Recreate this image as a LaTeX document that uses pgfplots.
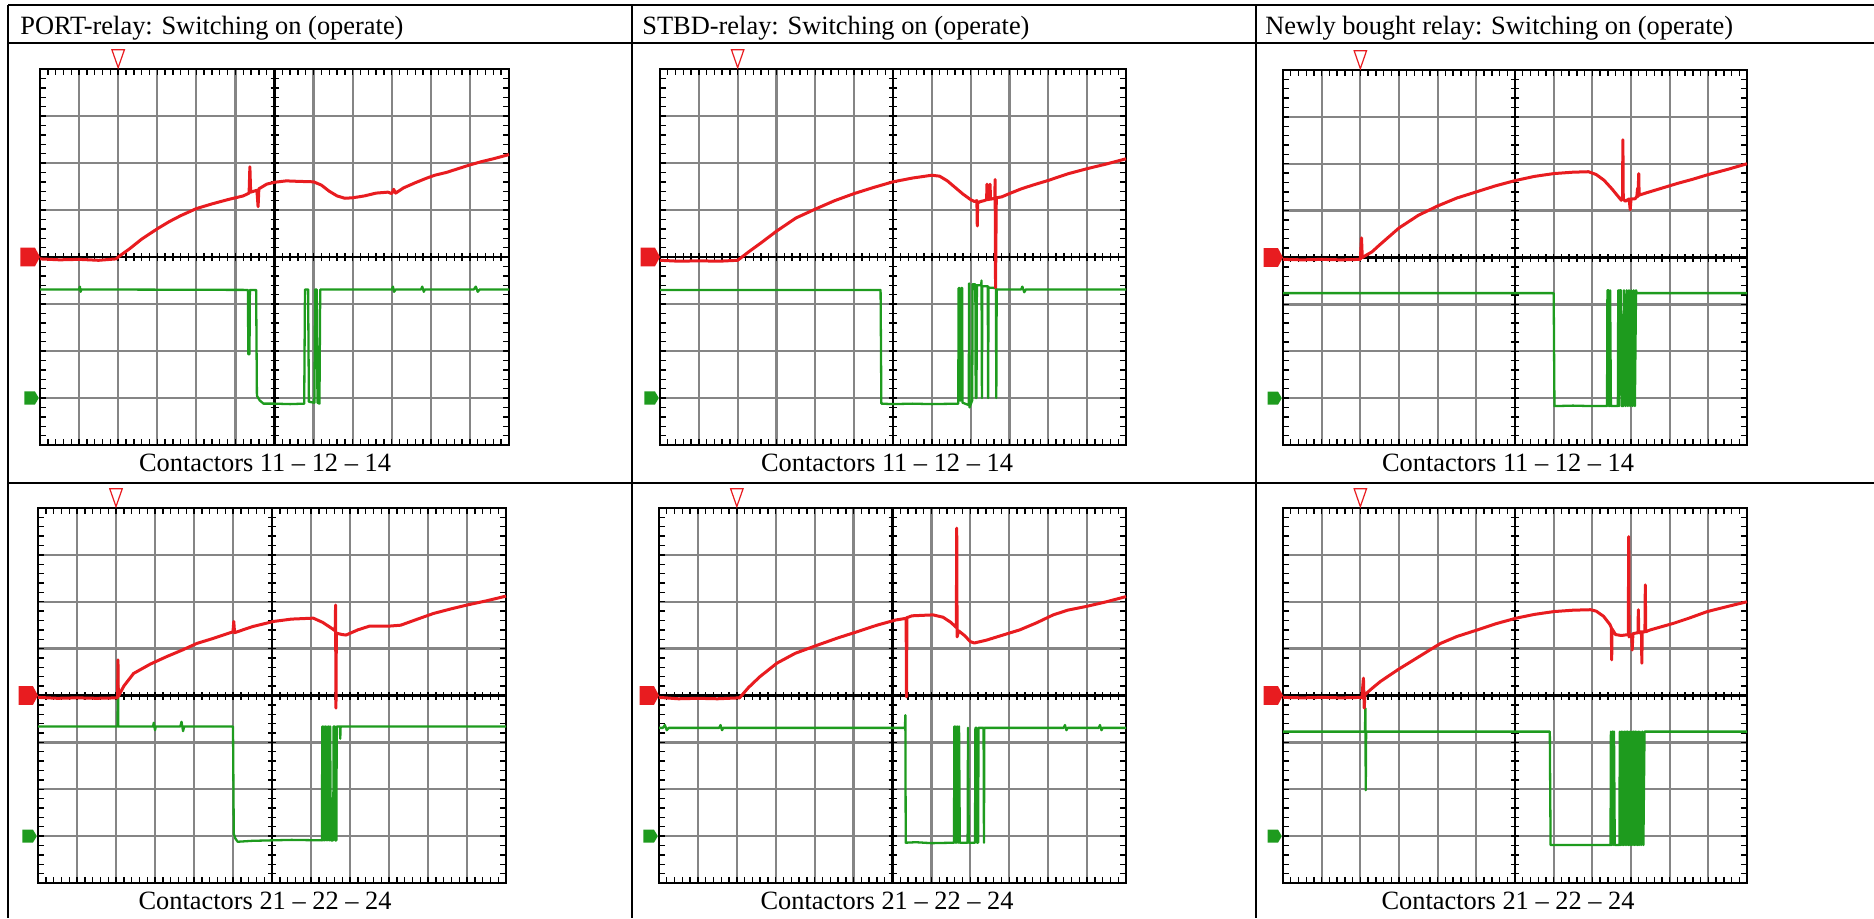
\documentclass[border=0pt]{standalone}
\usepackage{pgfplots}
\pgfplotsset{compat=1.18}
\usepackage{fontspec}
\setmainfont{Liberation Serif}
\definecolor{trred}{RGB}{232,28,32}
\definecolor{trgreen}{RGB}{30,155,30}
\pgfplotsset{
  gridax/.style={scale only axis, anchor=south west, xmin=0, xmax=12, ymin=-4, ymax=4,
    xtick={0,...,12}, ytick={-4,...,4}, xticklabel=\empty, yticklabel=\empty,
    minor x tick num=4, minor y tick num=4,
    grid=major, major grid style={black!48, line width=1.15pt},
    tick align=inside, major tick length=3pt, minor tick length=3pt,
    tick style={black, line width=0.7pt},
    axis line style={black, line width=1.3pt}},
  crossax/.style={scale only axis, anchor=south west, xmin=-6, xmax=6, ymin=-4, ymax=4,
    axis lines=center, axis line style={black, line width=1.2pt, -},
    xtick={-6,...,6}, ytick={-4,...,4}, xticklabel=\empty, yticklabel=\empty,
    minor x tick num=4, minor y tick num=4,
    tick align=center, major tick length=4pt, minor tick length=4pt,
    tick style={black, line width=0.7pt}},
  dataax/.style={scale only axis, anchor=south west, xmin=0, xmax=12, ymin=-4, ymax=4,
    hide axis, clip=false},
  redtr/.style={color=trred, line width=1.5pt, no markers, line join=round},
  greentr/.style={color=trgreen, line width=1.15pt, no markers, line join=round},
}
% #1 x, #2 y, #3 width, #4 height, #5 red trace, #6 green trace
\newcommand{\osc}[6]{%
  \begin{axis}[gridax, at={(#1,#2)}, width=#3, height=#4]
  \end{axis}
  \begin{axis}[crossax, at={(#1,#2)}, width=#3, height=#4]
  \end{axis}
  \begin{axis}[dataax, at={(#1,#2)}, width=#3, height=#4]
    \addplot[greentr] coordinates {#6};
    \addplot[redtr] coordinates {#5};
    \addplot[fill=trred, draw=none] coordinates {(-0.5,0.2)(-0.13,0.2)(0,0)(-0.13,-0.2)(-0.5,-0.2)} -- cycle;
    \addplot[fill=trgreen, draw=none] coordinates {(-0.4,-2.86)(-0.13,-2.86)(-0.03,-3)(-0.13,-3.14)(-0.4,-3.14)} -- cycle;
    \addplot[draw=trred, fill=white, line width=0.6pt] coordinates {(1.84,4.41)(2.16,4.41)(2,4.03)} -- cycle;
  \end{axis}}
\begin{document}
\begin{tikzpicture}
\useasboundingbox (0,0) rectangle (937pt,459pt);
% table rules
\draw[line width=0.9pt] (4pt,456.5pt) -- (937pt,456.5pt);
\draw[line width=0.9pt] (4pt,437.5pt) -- (937pt,437.5pt);
\draw[line width=0.9pt] (4pt,217.5pt) -- (937pt,217.5pt);
\draw[line width=1pt] (4pt,456.5pt) -- (4pt,0pt);
\draw[line width=1pt] (316pt,456.5pt) -- (316pt,0pt);
\draw[line width=1pt] (628pt,456.5pt) -- (628pt,0pt);
% texts
\begin{scope}[font=\fontsize{13.2pt}{15pt}\selectfont]
\node[anchor=base west, inner sep=0] at (10pt,441.75pt) {PORT-relay: Switching on (operate)};
\node[anchor=base west, inner sep=0] at (321pt,441.75pt) {STBD-relay: Switching on (operate)};
\node[anchor=base west, inner sep=0] at (632.5pt,441.75pt) {Newly bought relay: Switching on (operate)};
\node[anchor=base, inner sep=0] at (132.5pt,223.5pt) {Contactors 11 – 12 – 14};
\node[anchor=base, inner sep=0] at (443.5pt,223.5pt) {Contactors 11 – 12 – 14};
\node[anchor=base, inner sep=0] at (754pt,223.5pt) {Contactors 11 – 12 – 14};
\node[anchor=base, inner sep=0] at (132.5pt,4.5pt) {Contactors 21 – 22 – 24};
\node[anchor=base, inner sep=0] at (443.5pt,4.5pt) {Contactors 21 – 22 – 24};
\node[anchor=base, inner sep=0] at (754pt,4.5pt) {Contactors 21 – 22 – 24};
\end{scope}
% Panel 1: PORT 11-12-14
\osc{20pt}{236.5pt}{234.5pt}{188pt}
{(0,-0.04)(0.5,-0.06)(1,-0.05)(1.5,-0.07)(1.95,-0.04)(2.0,0.0)(2.3,0.18)(2.6,0.38)(3.0,0.60)(3.3,0.75)(3.6,0.88)(4.0,1.03)(4.4,1.13)(4.8,1.22)(5.2,1.30)(5.35,1.36)(5.37,1.92)(5.39,1.38)(5.55,1.42)(5.58,1.07)(5.60,1.45)(5.8,1.55)(6.0,1.59)(6.3,1.62)(6.6,1.61)(7.0,1.60)(7.2,1.53)(7.4,1.40)(7.6,1.30)(7.8,1.25)(8.0,1.26)(8.3,1.30)(8.6,1.36)(8.9,1.38)(9.0,1.35)(9.05,1.44)(9.1,1.36)(9.3,1.47)(9.6,1.58)(9.9,1.68)(10.1,1.74)(10.4,1.80)(10.7,1.88)(11.0,1.96)(11.3,2.03)(11.6,2.09)(12,2.18)}
{(0,-0.69)(1.0,-0.69)(1.02,-0.63)(1.04,-0.74)(1.06,-0.69)(5.32,-0.70)(5.33,-2.07)(5.36,-2.07)(5.37,-0.70)(5.53,-0.70)(5.55,-2.95)(5.62,-3.05)(5.72,-3.12)(6.0,-3.12)(6.4,-3.13)(6.76,-3.12)(6.78,-0.69)(6.86,-0.69)(6.88,-3.08)(7.02,-3.1)(7.04,-0.69)(7.08,-0.69)(7.10,-3.1)(7.15,-3.12)(7.17,-0.69)(9.0,-0.69)(9.03,-0.63)(9.06,-0.74)(9.1,-0.69)(9.75,-0.69)(9.78,-0.63)(9.82,-0.74)(9.85,-0.69)(11.1,-0.69)(11.15,-0.63)(11.2,-0.74)(11.25,-0.69)(12,-0.69)}
% Panel 2: STBD 11-12-14
\osc{330pt}{236.5pt}{233pt}{188pt}
{(0,-0.07)(0.5,-0.09)(1,-0.08)(1.5,-0.09)(2.0,-0.07)(2.3,0.12)(2.6,0.30)(3.0,0.55)(3.5,0.83)(4.0,1.02)(4.5,1.20)(5.0,1.35)(5.5,1.48)(6.0,1.60)(6.5,1.68)(7.0,1.74)(7.2,1.72)(7.4,1.62)(7.6,1.48)(7.8,1.34)(8.0,1.22)(8.1,1.18)(8.16,1.20)(8.17,0.66)(8.18,1.15)(8.25,1.18)(8.35,1.20)(8.41,1.22)(8.42,1.55)(8.43,1.22)(8.49,1.23)(8.50,1.55)(8.51,1.23)(8.62,1.25)(8.63,1.65)(8.64,-0.65)(8.66,1.26)(8.8,1.28)(9.0,1.35)(9.3,1.45)(9.6,1.53)(10.0,1.63)(10.5,1.77)(11.0,1.88)(11.5,1.98)(12,2.09)}
{(0,-0.70)(5.68,-0.70)(5.70,-3.12)(6.0,-3.13)(6.5,-3.12)(7.0,-3.13)(7.68,-3.12)(7.69,-0.66)(7.71,-0.66)(7.72,-3.05)(7.75,-3.05)(7.76,-0.66)(7.78,-0.66)(7.79,-3.1)(7.95,-3.15)(7.96,-0.56)(7.97,-3.2)(8.04,-3.05)(8.05,-0.58)(8.12,-0.58)(8.13,-3.0)(8.15,-3.0)(8.16,-0.6)(8.27,-0.6)(8.28,-0.5)(8.29,-3.0)(8.30,-0.62)(8.44,-0.62)(8.45,-3.0)(8.46,-0.65)(8.65,-0.66)(8.66,-3.0)(8.67,-0.69)(9.3,-0.69)(9.33,-0.63)(9.38,-0.75)(9.42,-0.69)(12,-0.69)}
% Panel 3: new relay 11-12-14
\osc{641.5pt}{236.5pt}{232pt}{187.5pt}
{(0,-0.04)(0.5,-0.05)(1,-0.04)(1.5,-0.05)(2.0,-0.04)(2.03,0.42)(2.05,0.0)(2.3,0.12)(2.5,0.27)(3.0,0.63)(3.5,0.90)(4.0,1.10)(4.5,1.27)(5.0,1.40)(5.5,1.53)(6.0,1.64)(6.5,1.73)(7.0,1.79)(7.5,1.82)(7.9,1.83)(8.1,1.77)(8.3,1.65)(8.5,1.47)(8.65,1.32)(8.75,1.22)(8.78,1.30)(8.79,2.51)(8.80,1.25)(8.85,1.20)(8.95,1.25)(8.98,1.02)(9.0,1.25)(9.1,1.25)(9.15,1.30)(9.17,1.48)(9.18,1.30)(9.20,1.79)(9.21,1.33)(9.4,1.38)(9.8,1.48)(10.2,1.58)(10.6,1.67)(11.0,1.77)(11.5,1.88)(12,2.00)}
{(0,-0.76)(7.0,-0.76)(7.02,-3.17)(7.5,-3.16)(8.0,-3.17)(8.38,-3.17)(8.39,-0.70)(8.42,-0.70)(8.43,-3.17)(8.45,-3.17)(8.46,-0.70)(8.48,-3.17)(8.66,-3.17)(8.67,-0.70)(8.69,-3.17)(8.71,-0.70)(8.74,-0.70)(8.76,-3.17)(8.80,-3.17)(8.82,-0.70)(8.86,-3.17)(8.89,-0.70)(8.92,-3.17)(8.95,-0.70)(8.98,-3.17)(9.01,-0.70)(9.04,-3.17)(9.07,-0.70)(9.10,-3.17)(9.13,-0.70)(9.15,-0.76)(12,-0.76)}
% Panel 4: PORT 21-22-24
\osc{19pt}{17.5pt}{234pt}{187.5pt}
{(0,-0.04)(0.5,-0.06)(1,-0.05)(1.5,-0.06)(2.04,-0.05)(2.05,0.76)(2.06,-0.02)(2.2,0.2)(2.45,0.47)(2.88,0.67)(3.3,0.83)(3.7,0.97)(4.07,1.11)(4.5,1.22)(5.0,1.36)(5.02,1.58)(5.04,1.34)(5.5,1.47)(6.04,1.58)(6.5,1.63)(7.06,1.65)(7.3,1.56)(7.5,1.45)(7.62,1.38)(7.63,1.93)(7.64,-0.27)(7.65,1.33)(7.8,1.30)(7.9,1.29)(8.2,1.40)(8.5,1.48)(9.0,1.48)(9.3,1.50)(9.7,1.62)(10.14,1.75)(10.6,1.85)(11.0,1.93)(11.5,2.02)(12,2.12)}
{(0,-0.66)(2.04,-0.66)(2.05,0.76)(2.06,-0.66)(2.95,-0.66)(2.97,-0.58)(3.0,-0.74)(3.02,-0.66)(3.65,-0.66)(3.68,-0.56)(3.72,-0.76)(3.75,-0.66)(5.0,-0.66)(5.02,-2.95)(5.06,-3.05)(5.12,-3.12)(5.5,-3.10)(6.0,-3.09)(6.5,-3.08)(7.28,-3.09)(7.29,-0.66)(7.31,-3.09)(7.33,-0.66)(7.35,-3.09)(7.37,-0.66)(7.39,-3.09)(7.41,-0.66)(7.43,-3.09)(7.45,-0.66)(7.47,-3.09)(7.49,-0.66)(7.51,-3.09)(7.57,-3.09)(7.58,-0.66)(7.61,-0.66)(7.62,-3.09)(7.65,-3.09)(7.66,-0.66)(7.74,-0.66)(7.75,-0.92)(7.76,-0.66)(12,-0.66)}
% Panel 5: STBD 21-22-24
\osc{329.5pt}{17.5pt}{233.5pt}{187.5pt}
{(0,-0.04)(0.5,-0.07)(1,-0.06)(1.5,-0.07)(2.07,-0.05)(2.3,0.17)(2.59,0.40)(3.03,0.69)(3.5,0.90)(4.09,1.08)(4.6,1.23)(5.09,1.36)(5.6,1.50)(6.08,1.61)(6.3,1.64)(6.35,1.65)(6.36,-0.03)(6.37,1.66)(6.5,1.70)(7.04,1.72)(7.3,1.67)(7.5,1.56)(7.64,1.45)(7.65,3.57)(7.66,1.25)(7.7,1.38)(7.85,1.28)(8.0,1.15)(8.1,1.12)(8.41,1.18)(8.8,1.28)(9.27,1.40)(9.7,1.55)(10.13,1.72)(10.5,1.82)(10.98,1.90)(11.5,2.00)(12,2.11)}
{(0,-0.69)(0.1,-0.69)(0.15,-0.63)(0.2,-0.74)(0.25,-0.69)(1.55,-0.69)(1.58,-0.63)(1.62,-0.74)(1.65,-0.69)(6.32,-0.69)(6.33,-0.42)(6.34,-3.14)(6.6,-3.13)(7.0,-3.15)(7.58,-3.14)(7.59,-0.66)(7.61,-3.14)(7.63,-0.66)(7.65,-3.14)(7.67,-0.66)(7.69,-3.14)(7.71,-0.66)(7.73,-3.14)(7.93,-3.14)(7.94,-0.69)(7.96,-3.14)(8.12,-3.14)(8.13,-0.69)(8.16,-0.69)(8.17,-3.14)(8.20,-3.14)(8.21,-0.69)(8.34,-0.69)(8.35,-3.14)(8.36,-0.69)(10.4,-0.69)(10.43,-0.63)(10.47,-0.74)(10.5,-0.69)(11.3,-0.69)(11.33,-0.63)(11.37,-0.74)(11.4,-0.69)(12,-0.69)}
% Panel 6: new relay 21-22-24
\osc{641.5pt}{17.5pt}{232pt}{187.5pt}
{(0,-0.04)(0.5,-0.05)(1,-0.04)(1.5,-0.05)(2.04,-0.04)(2.08,0.37)(2.10,-0.27)(2.12,0.02)(2.3,0.15)(2.52,0.30)(2.97,0.55)(3.5,0.82)(4.07,1.11)(4.5,1.26)(5.03,1.40)(5.5,1.53)(6.03,1.65)(6.5,1.73)(7.0,1.79)(7.5,1.82)(7.95,1.83)(8.1,1.80)(8.29,1.69)(8.45,1.52)(8.49,1.45)(8.50,0.76)(8.51,1.42)(8.6,1.30)(8.75,1.28)(8.93,1.30)(8.94,3.39)(8.95,1.25)(9.02,1.30)(9.03,0.97)(9.05,1.32)(9.18,1.34)(9.19,1.83)(9.20,1.34)(9.27,1.36)(9.28,0.69)(9.29,1.36)(9.36,1.36)(9.37,2.36)(9.38,1.36)(9.5,1.40)(10.1,1.54)(10.5,1.65)(10.97,1.79)(11.5,1.90)(12,2.00)}
{(0,-0.77)(2.12,-0.77)(2.13,-0.27)(2.14,-2.02)(2.15,-0.77)(6.90,-0.77)(6.92,-3.19)(7.5,-3.19)(8.0,-3.19)(8.47,-3.19)(8.48,-0.77)(8.50,-3.19)(8.52,-0.77)(8.54,-3.19)(8.56,-0.77)(8.58,-3.19)(8.70,-3.19)(8.71,-0.77)(8.73,-3.19)(8.75,-0.77)(8.77,-3.19)(8.79,-0.77)(8.81,-3.19)(8.83,-0.77)(8.85,-3.19)(8.87,-0.77)(8.89,-3.19)(8.91,-0.77)(8.93,-3.19)(8.95,-0.77)(8.97,-3.19)(8.99,-0.77)(9.01,-3.19)(9.03,-0.77)(9.05,-3.19)(9.07,-0.77)(9.09,-3.19)(9.11,-0.77)(9.13,-3.19)(9.15,-0.77)(9.17,-3.19)(9.19,-0.77)(9.21,-3.19)(9.23,-0.77)(9.26,-3.19)(9.29,-0.77)(9.32,-3.19)(9.35,-0.77)(9.37,-0.77)(12,-0.77)}
\end{tikzpicture}
\end{document}
